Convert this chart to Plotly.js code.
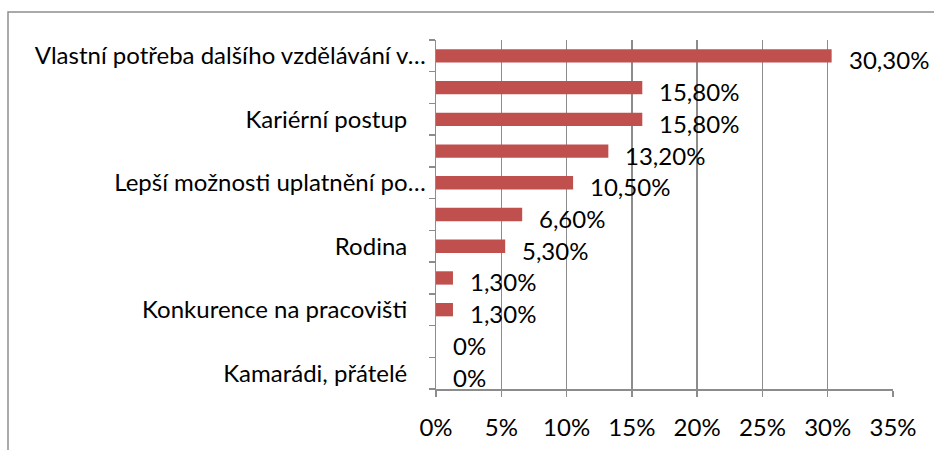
<!DOCTYPE html>
<html>
<head>
<meta charset="utf-8">
<script src="https://cdn.plot.ly/plotly-3.0.1.min.js"></script>
<style>
html,body{margin:0;padding:0;background:#fff;}
#chart{width:934px;height:450px;}
</style>
</head>
<body>
<div id="chart"></div>
<script>
// Category labels (blank = label not shown in the original chart)
var categories = [
  "Vlastní potřeba dalšího vzdělávání v…",
  "",
  "Kariérní postup\u00a0\u00a0\u00a0",
  "",
  "Lepší možnosti uplatnění po…",
  "",
  "Rodina\u00a0\u00a0\u00a0",
  "",
  "Konkurence na pracovišti\u00a0\u00a0\u00a0",
  "",
  "Kamarádi, přátelé\u00a0\u00a0\u00a0"
];
// Percent values
var values = [30.3, 15.8, 15.8, 13.2, 10.5, 6.6, 5.3, 1.3, 1.3, 0, 0];
// X axis ticks
var xTicks = [0, 5, 10, 15, 20, 25, 30, 35];
var xTickLabels = ["0%", "5%", "10%", "15%", "20%", "25%", "30%", "35%"];

var FONT = "Lato, 'Open Sans', sans-serif";
var FS = 24;
var idx = categories.map(function(_, i){ return i; });

function fmt(v){
  if (v === 0) return "0%";
  return v.toFixed(2).replace(".", ",") + "%";
}

var trace = {
  type: "bar",
  orientation: "h",
  x: values,
  y: idx,
  width: 0.42,
  marker: {color: "#C0504D", line: {width: 0}},
  hoverinfo: "skip"
};

var annotations = values.map(function(v, i){
  return {
    x: v, y: i, xref: "x", yref: "y",
    text: fmt(v), showarrow: false,
    xanchor: "left", yanchor: "middle",
    xshift: 15, yshift: -4,
    font: {family: FONT, size: FS, color: "#000"}
  };
});

var W = 934, H = 450, ml = 436, mr = 41, mt = 40, mb = 61;
var pw = W - ml - mr, ph = H - mt - mb;
function px2paperX(px){ return (px - ml) / pw; }
function px2paperY(py){ return (H - mb - py) / ph; }

var layout = {
  width: W, height: H,
  margin: {l: ml, r: mr, t: mt, b: mb, pad: 0},
  paper_bgcolor: "#fff",
  plot_bgcolor: "#fff",
  showlegend: false,
  font: {family: FONT, size: FS, color: "#000"},
  xaxis: {
    range: [0, 35],
    tickmode: "array",
    tickvals: xTicks,
    ticktext: xTickLabels,
    showgrid: true,
    gridcolor: "#8C8C8C",
    gridwidth: 1.5,
    showline: true,
    linecolor: "#8C8C8C",
    linewidth: 1.5,
    ticks: "outside",
    ticklen: 6,
    tickwidth: 1.5,
    tickcolor: "#8C8C8C",
    ticklabelstandoff: 11,
    zeroline: false,
    fixedrange: true,
    tickfont: {family: FONT, size: FS, color: "#000"}
  },
  yaxis: {
    range: [10.5, -0.5],
    tickmode: "array",
    tickvals: idx,
    ticktext: categories,
    ticks: "",
    showgrid: false,
    zeroline: false,
    showline: true,
    linecolor: "#8C8C8C",
    linewidth: 1.5,
    ticklabelstandoff: 4,
    minor: {
      tick0: 0.5, dtick: 1,
      ticks: "outside", ticklen: 6, tickwidth: 1.5, tickcolor: "#8C8C8C",
      showgrid: false
    },
    fixedrange: true,
    tickfont: {family: FONT, size: FS, color: "#000"}
  },
  shapes: [{
    type: "rect", xref: "paper", yref: "paper",
    x0: px2paperX(8), x1: px2paperX(960),
    y0: px2paperY(480), y1: px2paperY(12),
    line: {color: "#8E8E8E", width: 1.5},
    fillcolor: "rgba(0,0,0,0)",
    layer: "below"
  }],
  annotations: annotations
};

Plotly.newPlot("chart", [trace], layout, {displayModeBar: false, staticPlot: true});
</script>
</body>
</html>
